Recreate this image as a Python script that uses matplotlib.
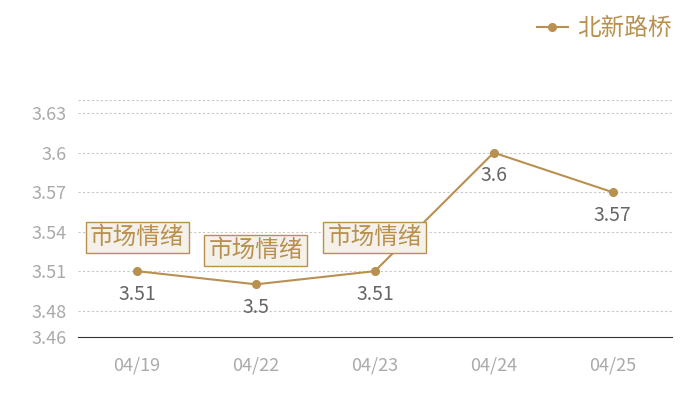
import matplotlib
matplotlib.use("Agg")
import matplotlib.pyplot as plt

plt.rcParams['font.family'] = ['Noto Sans CJK SC', 'DejaVu Sans']

# data
dates = ["04/19", "04/22", "04/23", "04/24", "04/25"]
prices = [3.51, 3.50, 3.51, 3.60, 3.57]
value_labels = ["3.51", "3.5", "3.51", "3.6", "3.57"]
mood_idx = [0, 1, 2]
mood_text = "市场情绪"
yticks = [3.46, 3.48, 3.51, 3.54, 3.57, 3.6, 3.63]
series_name = "北新路桥"

gold = "#B8904F"

fig = plt.figure(figsize=(7, 4), dpi=100)
ax = fig.add_axes([0.111, 0.1575, 0.849, 0.5925])

x = list(range(len(dates)))
ax.plot(x, prices, color=gold, lw=1.5, marker='o', ms=5.5, label=series_name, zorder=3)

for i, (v, lab) in enumerate(zip(prices, value_labels)):
    ax.annotate(lab, (i, v), xytext=(0, -9), textcoords='offset points',
                ha='center', va='top', fontsize=14, color='#666666')

for i in mood_idx:
    ax.annotate(mood_text, (i, prices[i]), xytext=(0, 16), textcoords='offset points',
                ha='center', va='bottom', fontsize=17, color=gold,
                bbox=dict(boxstyle='square,pad=0.18', fc='#F4F0EA', ec=gold, lw=1))

ax.set_xlim(-0.5, 4.5)
ax.set_ylim(3.46, 3.64)
ax.set_xticks(x)
ax.set_xticklabels(dates)
ax.set_yticks(yticks)
ax.set_yticklabels([f"{t:g}" for t in yticks])
for t in yticks[1:] + [3.64]:
    ax.axhline(t, color='#c8c8c8', lw=0.8, ls=(0, (2, 2)), zorder=1)

for s in ['top', 'right', 'left']:
    ax.spines[s].set_visible(False)
ax.spines['bottom'].set_color('#333333')
ax.tick_params(axis='both', length=0, labelsize=13, colors='#aaaaaa', pad=8)
ax.tick_params(axis='x', pad=14)

leg = fig.legend(loc='upper right', bbox_to_anchor=(0.99, 1.01), frameon=False,
                 fontsize=17, handlelength=1.3, handletextpad=0.4)
for t in leg.get_texts():
    t.set_color(gold)

fig.savefig("out.png", dpi=100, facecolor='white')
